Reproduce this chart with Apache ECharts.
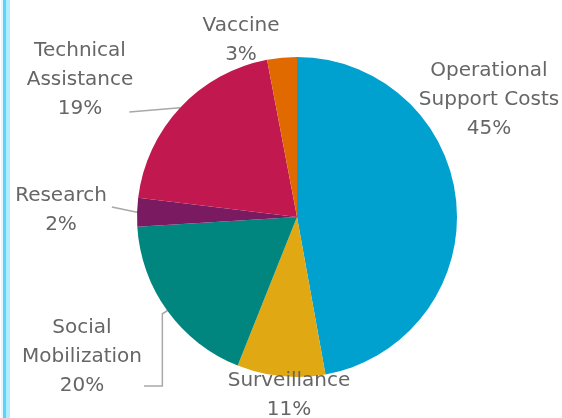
<!DOCTYPE html>
<html>
<head>
<meta charset="utf-8">
<script src="https://cdn.jsdelivr.net/npm/echarts@6/dist/echarts.min.js"></script>
<style>
  html, body { margin: 0; padding: 0; background: #fff; }
  #chart { width: 562px; height: 418px; }
</style>
</head>
<body>
<div id="chart"></div>
<script>
//各项名称（顺时针，从12点方向开始）
let names = ["Operational Support Costs", "Surveillance", "Social Mobilization", "Research", "Technical Assistance", "Vaccine"];
//扇区大小（按图中角度读取）
let shares = [47.2, 8.9, 18.0, 2.9, 20.1, 3.0];
//图中标注的百分比
let pctLabels = [45, 11, 20, 2, 19, 3];
let colors = ["#00a0cf", "#e0a812", "#00857f", "#7a1a61", "#c0184f", "#e06a00"];
//有引导线的项
let withLeader = ["Technical Assistance", "Research", "Social Mobilization"];
//标签块中心位置
let labelSpots = [[489, 100], [289, 395], [82, 357], [61, 210], [80, 80], [241, 40]];

let myChart = echarts.init(document.getElementById("chart"), null, { renderer: "canvas" });

let data = names.map(function (n, i) {
    return {
        name: n,
        value: shares[i],
        itemStyle: { color: colors[i] },
        labelLine: { show: withLeader.indexOf(n) >= 0 }
    };
});

let option = {
    animation: false,
    graphic: [
        { type: "rect", shape: { x: 1, y: 0, width: 2, height: 418 }, style: { fill: "#e2f7ff" } },
        { type: "rect", shape: { x: 3, y: 0, width: 3, height: 418 }, style: { fill: "#5ad4ff" } },
        { type: "rect", shape: { x: 6, y: 0, width: 4, height: 418 }, style: { fill: "#b2ecff" } }
    ],
    series: [{
        type: "pie",
        center: [297, 217],
        radius: 160,
        startAngle: 90,
        clockwise: true,
        avoidLabelOverlap: false,
        data: data,
        label: {
            show: true,
            position: "outside",
            color: "#666666",
            fontFamily: "DejaVu Sans",
            fontSize: 20,
            lineHeight: 29,
            align: "center",
            formatter: function (p) {
                return p.name.replace(" ", "\n") + "\n" + pctLabels[p.dataIndex] + "%";
            }
        },
        labelLine: {
            lineStyle: { color: "#a8a8a8", width: 1.5 }
        },
        labelLayout: function (p) {
            let i = p.dataIndex;
            let cx = labelSpots[i][0], cy = labelSpots[i][1];
            let w = p.labelRect.width;
            let res = { x: cx, y: cy, align: "center", verticalAlign: "middle" };
            let pts = p.labelLinePoints;
            if (pts && withLeader.indexOf(names[i]) >= 0) {
                let s = pts[0];
                let right = cx + w / 2;
                if (names[i] === "Technical Assistance") {
                    res.labelLinePoints = [s, [right - 4, cy + 32]];
                } else if (names[i] === "Research") {
                    res.labelLinePoints = [s, [right + 5, cy - 3]];
                } else {
                    res.labelLinePoints = [s, [s[0] - 5, s[1] + 3], [s[0] - 5, cy + 29], [right + 2, cy + 29]];
                }
            }
            return res;
        }
    }]
};

myChart.setOption(option);
</script>
</body>
</html>
